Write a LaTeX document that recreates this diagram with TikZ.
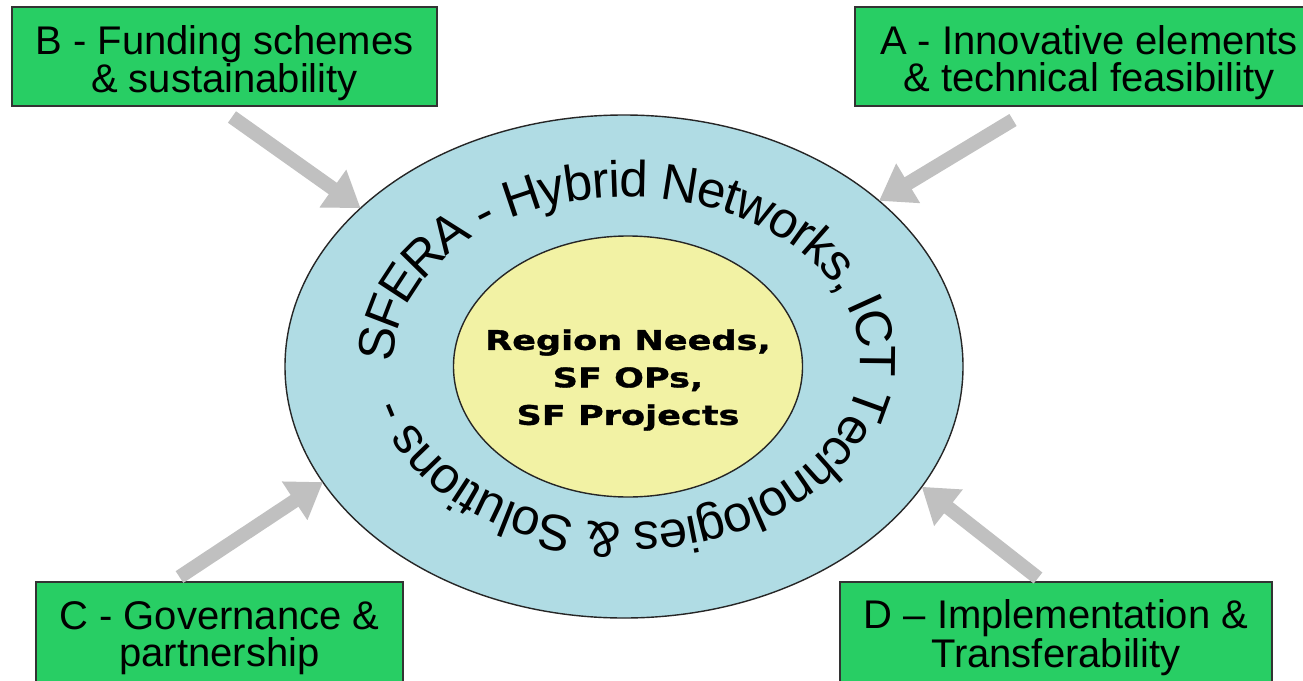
\documentclass[tikz,border=0pt]{standalone}
\usepackage{fontspec}
\setmainfont{Liberation Sans}
\newfontfamily\needsfont{DejaVu Sans}[FakeStretch=1.3, BoldFeatures={FakeBold=1.2}]
\usetikzlibrary{arrows.meta,shapes.geometric}
\definecolor{tagfill}{RGB}{40,206,100}
\definecolor{ringfill}{RGB}{176,220,228}
\definecolor{corefill}{RGB}{242,242,164}
\definecolor{flowgray}{RGB}{192,192,192}
\tikzset{tagbox/.style={draw=black!80, line width=1.2pt, fill=tagfill, align=center, inner sep=0pt, outer sep=0pt, font=\fontsize{40}{37}\selectfont}}
\tikzset{ringshape/.style={ellipse, draw=black!85, line width=1.4pt, inner sep=0pt, outer sep=0pt}}
\tikzset{ringchar/.style={inner sep=0pt, outer sep=0pt, anchor=base, font=\ringsize}}
\tikzset{flow/.style={draw=flowgray, line width=14pt, -{Triangle[width=44pt,length=34pt]}}}
\newcommand{\ringsize}{\fontsize{51}{60}\selectfont}
\newcommand{\ringgap}{\ }
\newcommand{\tagstrut}[1]{\rule{0pt}{#1pt}}

\begin{document}
\begin{tikzpicture}[x=1pt,y=1pt]
		\path[use as bounding box, fill=white] (0,0) rectangle (1303,-680);
		
		\node[ringshape, fill=ringfill, minimum width=678pt, minimum height=503pt] (ring) at (624,-366.5){};
		\node[ringshape, fill=corefill, minimum width=349pt, minimum height=261pt] (core) at (628,-366.5){};
		\node[font=\needsfont\bfseries\fontsize{27}{37.5}\selectfont, align=center] (needs) at (628,-380){Region Needs,\\SF OPs,\\SF Projects};
		
		\coordinate (rim) at (627,-360);
		\def\rimx{2.51}
		\def\rimy{1.81}
		\xdef\tcur{180}
		\foreach \ch/\cw in {S/.667,F/.611,E/.667,R/.722,A/.667,\ringgap/.278,-/.333,\ringgap/.278,H/.722,y/.5,b/.556,r/.333,i/.222,d/.556,\ringgap/.278,N/.722,e/.556,t/.278,w/.722,o/.556,r/.333,k/.5,s/.5,{,}/.278,\ringgap/.278,I/.278,C/.722,T/.611,\ringgap/.278,T/.611,e/.556,c/.5,h/.556,n/.556,o/.556,l/.222,o/.556,g/.556,i/.222,e/.556,s/.5,\ringgap/.278,\&/.667,\ringgap/.278,S/.667,o/.556,l/.222,u/.556,t/.278,i/.222,o/.556,n/.556,s/.5,\ringgap/.278,-/.333}{
			\pgfmathsetmacro\chwd{51*\cw}
			\pgfmathsetmacro\rimlen{sqrt((\rimx*sin(\tcur))^2+(\rimy*cos(\tcur))^2)}
			\pgfmathsetmacro\tmid{\tcur-0.5*\chwd/(100*\rimlen*pi/180)}
			\pgfmathsetmacro\rimlen{sqrt((\rimx*sin(\tmid))^2+(\rimy*cos(\tmid))^2)}
			\pgfmathsetmacro\tmid{\tcur-0.5*\chwd/(100*\rimlen*pi/180)}
			\pgfmathsetmacro\rimlen{sqrt((\rimx*sin(\tmid))^2+(\rimy*cos(\tmid))^2)}
			\pgfmathsetmacro\tilt{atan2(-\rimy*cos(\tmid),\rimx*sin(\tmid))}
			\pgfmathsetmacro\posx{100*\rimx*cos(\tmid)-18*\rimy*cos(\tmid)/\rimlen}
			\pgfmathsetmacro\posy{100*\rimy*sin(\tmid)-18*\rimx*sin(\tmid)/\rimlen}
			\expandafter\ifx\ch\ringgap\else
				\node[ringchar, rotate=\tilt] at ([shift={(\posx,\posy)}]rim){\ch};
			\fi
			\pgfmathsetmacro\tnext{\tcur-\chwd/(100*\rimlen*pi/180)}
			\xdef\tcur{\tnext}
		}
		
		\node[tagbox, minimum width=425pt, minimum height=99pt] (boxB) at (224.5,-56.5){\tagstrut{42}B - Funding schemes\\\& sustainability};
		\node[tagbox, minimum width=468pt, minimum height=99pt] (boxA) at (1089,-56.5){\tagstrut{42}A - Innovative elements\\\& technical feasibility};
		\node[tagbox, minimum width=367pt, minimum height=108pt] (boxC) at (219.5,-636){\tagstrut{32}C - Governance \&\\partnership};
		\node[tagbox, minimum width=432pt, minimum height=108pt] (boxD) at (1056,-636){\tagstrut{32}D -- Implementation \&\\Transferability};
		
		\draw[flow] ([shift={(7.5,-11)}]boxB.south) -- (ring.149);
		\draw[flow] ([shift={(-76,-14)}]boxA.south) -- (ring.33);
		\draw[flow] ([shift={(-40,5)}]boxC.north) -- (ring.201);
		\draw[flow] ([shift={(-18,4)}]boxD.north) -- (ring.-22);
\end{tikzpicture}
\end{document}
